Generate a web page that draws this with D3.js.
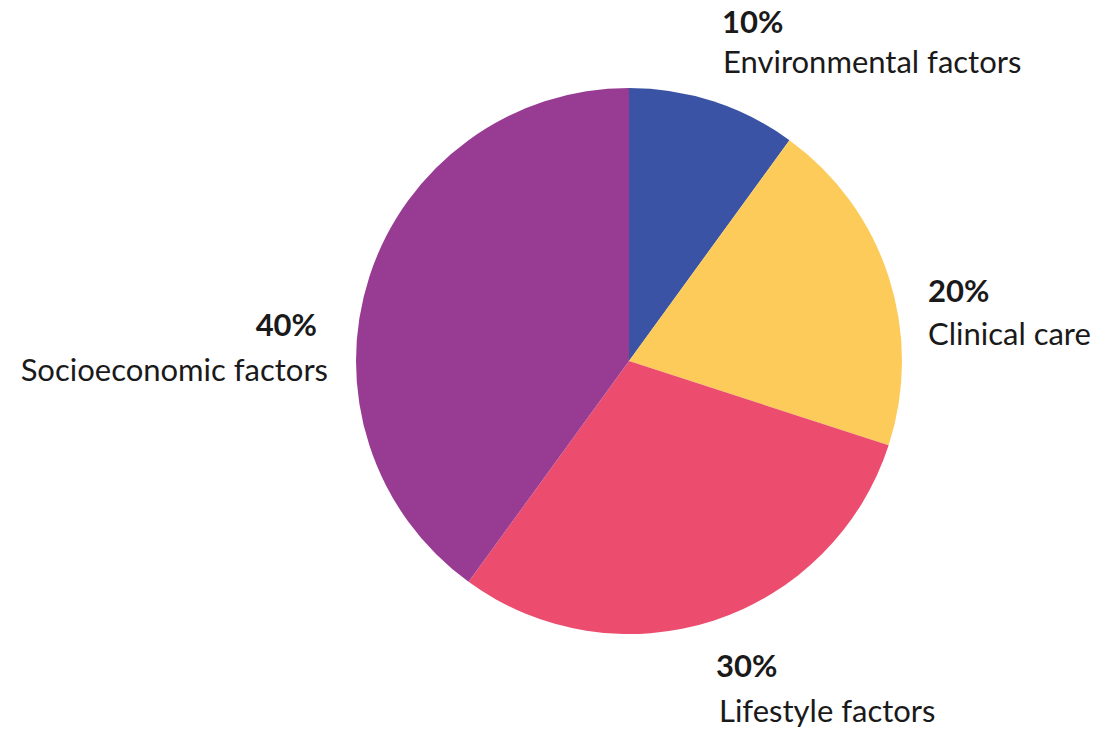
<!DOCTYPE html>
<html>
<head>
<meta charset="utf-8">
<script src="https://cdn.jsdelivr.net/npm/d3@7"></script>
<style>
  body { margin: 0; background: #fff; }
  text { font-family: Lato, "Open Sans", sans-serif; fill: #1a1a1a; }
</style>
</head>
<body>
<div id="chart"></div>
<script>
// data
var labels = ["Environmental factors", "Clinical care", "Lifestyle factors", "Socioeconomic factors"];
var values = [10, 20, 30, 40];
var colors = ["#3A53A4", "#FCCB5A", "#EC4D6F", "#983C93"];

var width = 1103, height = 731;
var cx = 629, cy = 361, radius = 273;

// label spots: percent baseline, name baseline
var labelPos = [
  {x: 722, y: 33, y2: 73, anchor: "start", dx: 1},
  {x: 928, y: 302, y2: 345, anchor: "start", dx: 0},
  {x: 716, y: 677, y2: 722, anchor: "start", dx: 3},
  {x: 317, y: 336, y2: 381, anchor: "end", dx: 11}
];

var svg = d3.select("#chart")
  .append("svg")
    .attr("width", width)
    .attr("height", height);

var pie = d3.pie().sort(null).value(function(d) { return d; });
var arc = d3.arc().innerRadius(0).outerRadius(radius);

var g = svg.append("g")
  .attr("transform", "translate(" + cx + "," + cy + ")");

g.selectAll("path")
  .data(pie(values))
  .enter()
  .append("path")
    .attr("d", arc)
    .attr("fill", function(d, i) { return colors[i]; });

// labels
var lab = svg.selectAll(".lab")
  .data(values)
  .enter()
  .append("g")
    .attr("class", "lab");

lab.append("text")
  .attr("x", function(d, i) { return labelPos[i].x; })
  .attr("y", function(d, i) { return labelPos[i].y; })
  .attr("text-anchor", function(d, i) { return labelPos[i].anchor; })
  .attr("font-size", 31)
  .attr("font-weight", "bold")
  .text(function(d) { return d + "%"; });

lab.append("text")
  .attr("x", function(d, i) { return labelPos[i].x + labelPos[i].dx; })
  .attr("y", function(d, i) { return labelPos[i].y2; })
  .attr("text-anchor", function(d, i) { return labelPos[i].anchor; })
  .attr("font-size", 31)
  .text(function(d, i) { return labels[i]; });
</script>
</body>
</html>
